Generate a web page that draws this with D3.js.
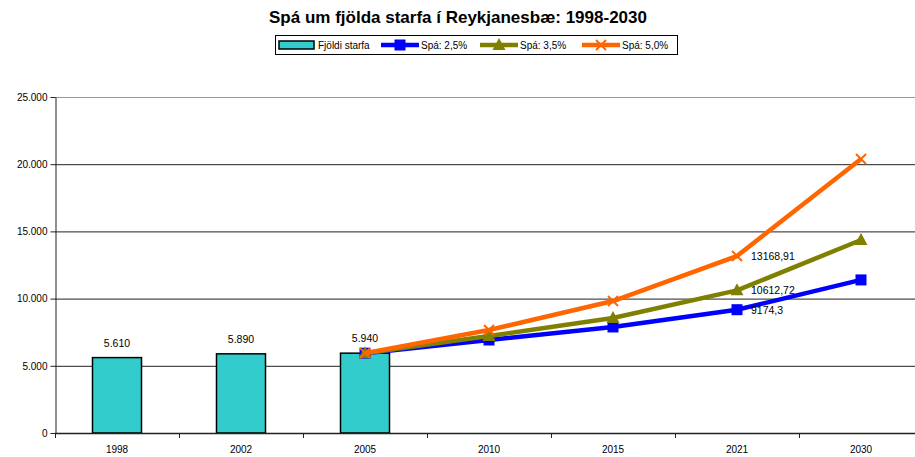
<!DOCTYPE html>
<html><head><meta charset="utf-8">
<script src="https://cdn.jsdelivr.net/npm/d3@7"></script>
<style>body{margin:0;background:#fff;} svg{display:block;font-family:"Liberation Sans",Arial,sans-serif;}</style>
</head><body><svg id="c" width="915" height="457"></svg>
<script>
const categories = ["1998","2002","2005","2010","2015","2021","2030"];
const barValues = [5610, 5890, 5940, null, null, null, null];
const barLabels = ["5.610","5.890","5.940"];
const spa25 = [null, null, 5940, 6920, 7890, 9174.3, 11390];
const spa35 = [null, null, 5940, 7220, 8560, 10612.72, 14360];
const spa50 = [null, null, 5940, 7660, 9820, 13168.91, 20390];
const yTicks = [0, 5000, 10000, 15000, 20000, 25000];
const yTickLabels = ["0","5.000","10.000","15.000","20.000","25.000"];
const series = [
  {name:"Spá: 2,5%", values:spa25, color:"#0000ff", marker:"square", label:"9174,3"},
  {name:"Spá: 3,5%", values:spa35, color:"#808000", marker:"triangle", label:"10612,72"},
  {name:"Spá: 5,0%", values:spa50, color:"#ff6600", marker:"x", label:"13168,91"}
];

const svg = d3.select("#c");
const L=55, R=923, T=97, B=433;
const x = d3.scaleBand().domain(categories).range([L,R]);
const y = d3.scaleLinear().domain([0,25000]).range([B,T]);

svg.append("text").attr("x",458).attr("y",23).attr("text-anchor","middle")
  .attr("font-size","17px").attr("font-weight","bold").text("Spá um fjölda starfa í Reykjanesbæ: 1998-2030");

// gridlines
svg.append("g").selectAll("line").data(yTicks.slice(1)).join("line")
  .attr("x1",L).attr("x2",R).attr("y1",d=>y(d)+0.5).attr("y2",d=>y(d)+0.5)
  .attr("stroke",(d)=>d===25000?"#999":"#222").attr("stroke-width",1);

// y axis
const ya = svg.append("g").attr("transform",`translate(${L+0.5},0)`)
  .call(d3.axisLeft(y).tickValues(yTicks).tickFormat((d,i)=>yTickLabels[i]).tickSize(5).tickSizeOuter(0));
ya.selectAll("text").attr("font-size","10px").attr("fill","#000").attr("font-family","Liberation Sans, Arial, sans-serif");
ya.selectAll("line,path").attr("stroke","#222");

// bars
const bw = 49;
svg.append("g").selectAll("rect").data(categories.map((c,i)=>({c,v:barValues[i]})).filter(d=>d.v!=null)).join("rect")
  .attr("x",d=>x(d.c)+x.bandwidth()/2-bw/2).attr("y",d=>y(d.v)).attr("width",bw).attr("height",d=>B-y(d.v))
  .attr("fill","#33cccc").attr("stroke","#000").attr("stroke-width",1.5);
svg.append("g").selectAll("text").data(barLabels).join("text")
  .attr("x",(d,i)=>x(categories[i])+x.bandwidth()/2).attr("y",(d,i)=>y(barValues[i])-11)
  .attr("text-anchor","middle").attr("font-size","10.5px").text(d=>d);

// x axis
svg.append("line").attr("x1",L).attr("x2",R).attr("y1",B+0.5).attr("y2",B+0.5).attr("stroke","#222").attr("stroke-width",1.5);
const xa = svg.append("g").attr("transform",`translate(0,${B})`);
xa.selectAll("line").data(d3.range(categories.length+1)).join("line")
  .attr("x1",i=>Math.round(L+i*x.step())+0.5).attr("x2",i=>Math.round(L+i*x.step())+0.5).attr("y1",0).attr("y2",5).attr("stroke","#222");
xa.selectAll("text").data(categories).join("text")
  .attr("x",d=>x(d)+x.bandwidth()/2).attr("y",20).attr("text-anchor","middle").attr("font-size","10px").text(d=>d);

// lines
const cx = c=>x(c)+x.bandwidth()/2;
function drawMarker(g, m, px, py, color){
  if(m==="square") g.append("rect").attr("x",px-5.5).attr("y",py-5.5).attr("width",11).attr("height",11).attr("fill",color);
  else if(m==="triangle") g.append("path").attr("d",`M${px},${py-7}L${px+6.5},${py+5}L${px-6.5},${py+5}Z`).attr("fill",color);
  else g.append("path").attr("d",`M${px-5},${py-5}L${px+5},${py+5}M${px-5},${py+5}L${px+5},${py-5}`).attr("stroke",color).attr("stroke-width",2);
}
series.forEach(s=>{
  const pts = categories.map((c,i)=>({c,v:s.values[i]})).filter(d=>d.v!=null);
  svg.append("path").datum(pts).attr("fill","none").attr("stroke",s.color).attr("stroke-width",4.5)
    .attr("stroke-linejoin","round").attr("d",d3.line().x(d=>cx(d.c)).y(d=>y(d.v)));
  const g = svg.append("g");
  pts.forEach(p=>drawMarker(g,s.marker,cx(p.c),y(p.v),s.color));
  const i21 = categories.indexOf("2021");
  svg.append("text").attr("x",cx("2021")+14).attr("y",y(s.values[i21])+4).attr("font-size","10.5px").text(s.label);
});

// legend
const lg = svg.append("g");
lg.append("rect").attr("x",275.5).attr("y",35.5).attr("width",402).attr("height",19).attr("fill","#fff").attr("stroke","#000");
lg.append("rect").attr("x",279).attr("y",41).attr("width",35).attr("height",8).attr("fill","#33cccc").attr("stroke","#000").attr("stroke-width",1.5);
lg.append("text").attr("x",318).attr("y",49).attr("font-size","10px").text("Fjöldi starfa");
const lx = [381, 480, 582];
series.forEach((s,i)=>{
  lg.append("line").attr("x1",lx[i]).attr("x2",lx[i]+38).attr("y1",45).attr("y2",45).attr("stroke",s.color).attr("stroke-width",4.5);
  drawMarker(lg,s.marker,lx[i]+19,45,s.color);
  lg.append("text").attr("x",lx[i]+40).attr("y",49).attr("font-size","10px").text(s.name);
});
</script></body></html>
